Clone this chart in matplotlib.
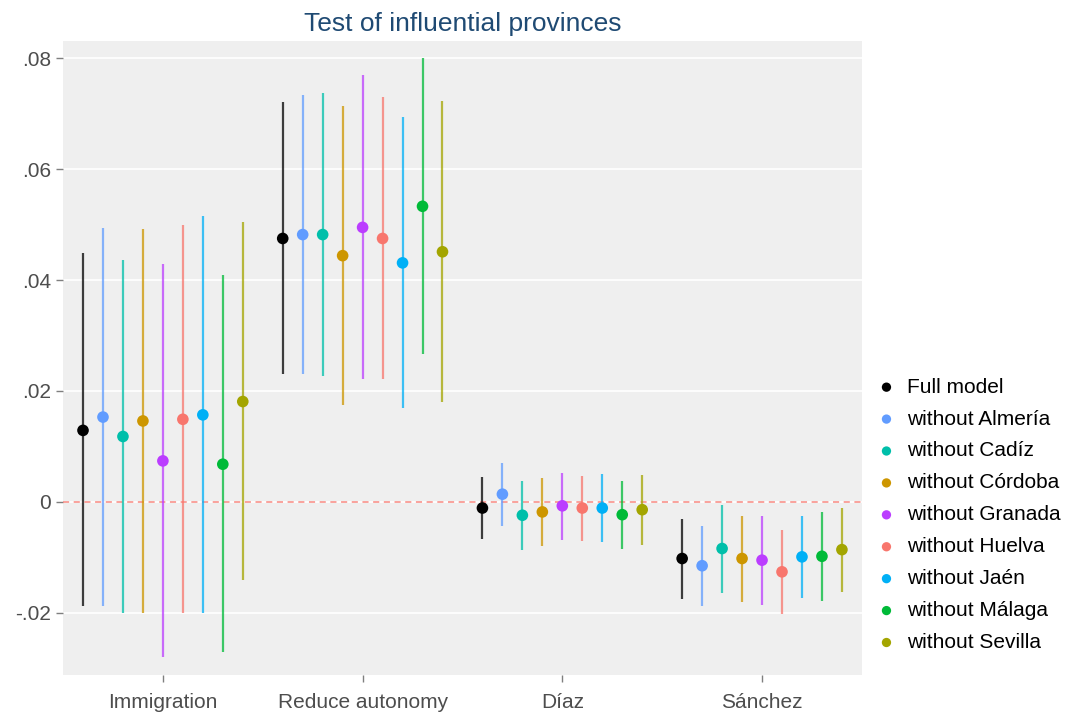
import numpy as np
import matplotlib
matplotlib.use("Agg")
import matplotlib.pyplot as plt

plt.rcParams['font.family'] = ['Liberation Sans', 'DejaVu Sans']

categories = ["Immigration", "Reduce autonomy", "Díaz", "Sánchez"]
models = ["Full model", "without Almería", "without Cadíz", "without Córdoba",
          "without Granada", "without Huelva", "without Jaén", "without Málaga",
          "without Sevilla"]
colors = ["#000000", "#619CFF", "#00BFAA", "#CD9600", "#BB3DFF",
          "#F8766D", "#00B0F6", "#00BA38", "#A3A500"]

# estimates[model][category]
estimates = [
    [0.0129, 0.0475, -0.0011, -0.0102],
    [0.0153, 0.0482, 0.0014, -0.0115],
    [0.0118, 0.0482, -0.0024, -0.0084],
    [0.0146, 0.0444, -0.0018, -0.0102],
    [0.0074, 0.0495, -0.0007, -0.0105],
    [0.0149, 0.0475, -0.0011, -0.0126],
    [0.0157, 0.0431, -0.0011, -0.0099],
    [0.0068, 0.0533, -0.0023, -0.0098],
    [0.0181, 0.0451, -0.0014, -0.0086],
]
lower = [
    [-0.0188, 0.0230, -0.0067, -0.0175],
    [-0.0188, 0.0231, -0.0043, -0.0187],
    [-0.0200, 0.0227, -0.0087, -0.0164],
    [-0.0200, 0.0174, -0.0080, -0.0180],
    [-0.0279, 0.0222, -0.0069, -0.0185],
    [-0.0200, 0.0221, -0.0070, -0.0202],
    [-0.0200, 0.0169, -0.0072, -0.0173],
    [-0.0271, 0.0267, -0.0084, -0.0178],
    [-0.0140, 0.0181, -0.0078, -0.0162],
]
upper = [
    [0.0449, 0.0721, 0.0045, -0.0031],
    [0.0493, 0.0733, 0.0070, -0.0044],
    [0.0437, 0.0737, 0.0038, -0.0005],
    [0.0492, 0.0714, 0.0044, -0.0025],
    [0.0429, 0.0769, 0.0053, -0.0025],
    [0.0499, 0.0730, 0.0047, -0.0050],
    [0.0515, 0.0694, 0.0050, -0.0025],
    [0.0410, 0.0800, 0.0038, -0.0019],
    [0.0504, 0.0722, 0.0049, -0.0011],
]

fig = plt.figure(figsize=(10.72, 7.18), dpi=100)
ax = fig.add_axes([0.0588, 0.0599, 0.7452, 0.883])
ax.set_facecolor("#EFEFEF")
for s in ax.spines.values():
    s.set_visible(False)

x = np.arange(1, len(categories) + 1)
n = len(models)
step = 0.1
for i, m in enumerate(models):
    off = (i - (n - 1) / 2) * step
    xs = x + off
    ax.vlines(xs, lower[i], upper[i], color=colors[i], lw=1.6, alpha=0.75, zorder=3)
    ax.scatter(xs, estimates[i], color=colors[i], s=70, zorder=4, label=m,
               edgecolors="none")

ax.axhline(0, color="#F8766D", lw=1.1, ls=(0, (4, 3)), alpha=0.85, zorder=2)

ax.set_xlim(0.5, 4.5)
ax.set_ylim(-0.0312, 0.0831)
yt = [-0.02, 0, 0.02, 0.04, 0.06, 0.08]
ax.set_yticks(yt)
ax.set_yticklabels(["-.02", "0", ".02", ".04", ".06", ".08"])
ax.set_xticks(x)
ax.set_xticklabels(categories)
ax.grid(axis="y", color="white", lw=1.2, zorder=1)
ax.set_axisbelow(True)
ax.tick_params(axis="both", colors="#7f7f7f", labelcolor="#4d4d4d",
               labelsize=15, length=5, width=1)
ax.tick_params(axis="x", pad=8)

ax.set_title("Test of influential provinces", color="#1F4A73", fontsize=19, pad=7)

fig.legend(*ax.get_legend_handles_labels(), loc="center left",
           bbox_to_anchor=(0.790, 0.283), frameon=False, fontsize=15,
           handletextpad=0.0, labelspacing=0.62, scatterpoints=1,
           markerscale=0.8)

fig.savefig("out.png", dpi=100)
